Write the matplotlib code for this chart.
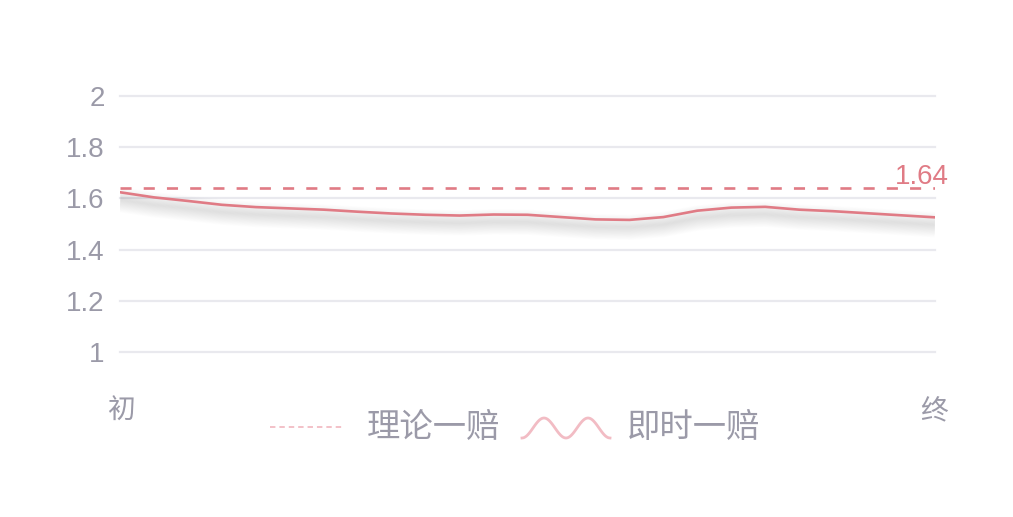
import numpy as np
import matplotlib
matplotlib.use("Agg")
import matplotlib.pyplot as plt
from matplotlib.lines import Line2D

plt.rcParams['font.family'] = ['Noto Sans CJK SC', 'DejaVu Sans']

# data
odds_live = [1.624, 1.604, 1.590, 1.575, 1.566, 1.561, 1.556, 1.548,
             1.541, 1.536, 1.533, 1.537, 1.536, 1.527, 1.518, 1.516,
             1.527, 1.552, 1.564, 1.567, 1.556, 1.550, 1.542, 1.534, 1.526]
odds_theory = 1.64
y_ticks = [1, 1.2, 1.4, 1.6, 1.8, 2]
y_tick_labels = ['1', '1.2', '1.4', '1.6', '1.8', '2']
x_start_label = '初'
x_end_label = '终'
legend_labels = ['理论一赔', '即时一赔']

line_color = '#e07b85'
legend_pink = '#f2bcc4'
grid_color = '#e9e9ee'
text_color = '#9b9aa8'
num_font = ['Liberation Sans', 'DejaVu Sans']
cjk_font = ['Noto Sans CJK SC', 'DejaVu Sans']

W, H = 1013, 517
fig = plt.figure(figsize=(W / 100, H / 100), dpi=100)
ax = fig.add_axes([120 / W, (H - 352) / H, 815 / W, 256 / H])

x = np.arange(len(odds_live))
ax.set_xlim(x[0], x[-1])
ax.set_ylim(1, 2)

for t in y_ticks:
    ax.axhline(t, color=grid_color, lw=1.6, zorder=0, clip_on=False)

# soft shadow under the live line
for k in range(1, 18):
    ax.plot(x, np.array(odds_live) - 0.0032 * k, color='#000000',
            alpha=0.0075, lw=9, solid_capstyle='butt', zorder=1)

ax.axhline(odds_theory, color=line_color, lw=1.9, dashes=(4.2, 4.6), zorder=3)
ax.plot(x, odds_live, color=line_color, lw=1.9, zorder=4)

ax.annotate(f'{odds_theory:.2f}', xy=(x[-1], odds_theory), xytext=(-29, -1.5),
            textcoords='offset points', color=line_color, fontsize=20,
            family=num_font, ha='left', va='bottom', annotation_clip=False)

ax.set_yticks(y_ticks)
ax.set_yticklabels(y_tick_labels, family=num_font)
ax.tick_params(axis='y', length=0, pad=11, labelsize=20, labelcolor=text_color)
ax.set_xticks([])
for s in ax.spines.values():
    s.set_visible(False)

fig.text(121 / W, 1 - 411 / H, x_start_label, color=text_color, fontsize=20,
         family=cjk_font, fontweight='light', ha='center', va='center')
fig.text(934 / W, 1 - 411 / H, x_end_label, color=text_color, fontsize=20,
         family=cjk_font, fontweight='light', ha='center', va='center')

# legend
ly = 1 - 427 / H
fig.add_artist(Line2D([270 / W, 342 / W], [ly, ly], color=legend_pink, lw=1.3,
                      dashes=(3, 2.2), transform=fig.transFigure))
fig.text(367 / W, ly, legend_labels[0], color=text_color, fontsize=24,
         family=cjk_font, fontweight='light', ha='left', va='center')
wx = np.linspace(522, 610, 80)
wy = 428 + 10 * np.cos((wx - 522) / 88 * 4 * np.pi)
fig.add_artist(Line2D(wx / W, 1 - wy / H, color=legend_pink, lw=2,
                      transform=fig.transFigure))
fig.text(627 / W, ly, legend_labels[1], color=text_color, fontsize=24,
         family=cjk_font, fontweight='light', ha='left', va='center')

fig.savefig('out.png', dpi=100, facecolor='white')
